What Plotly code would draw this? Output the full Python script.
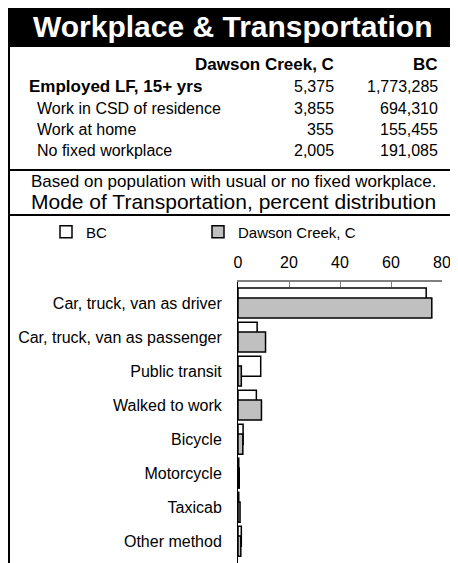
import plotly.graph_objects as go

# The page body has an 8px margin, so the figure is drawn 8px smaller and every
# reference pixel coordinate below is converted through px()/py().
W, H = 450, 555
OFF = 8

categories = ["Car, truck, van as driver", "Car, truck, van as passenger", "Public transit",
              "Walked to work", "Bicycle", "Motorcycle", "Taxicab", "Other method"]
bc_values = [73.8, 7.5, 8.9, 7.2, 2.0, 0.3, 0.3, 1.3]
dc_values = [76.0, 10.8, 1.3, 9.2, 1.9, 0.5, 0.8, 1.1]
x_ticks = [0, 20, 40, 60, 80]

title_text = "Workplace & Transportation"
table_header = ["Dawson Creek, C", "BC"]
table_rows = ["Employed LF, 15+ yrs", "Work in CSD of residence", "Work at home", "No fixed workplace"]
dc_counts = ["5,375", "3,855", "355", "2,005"]
bc_counts = ["1,773,285", "694,310", "155,455", "191,085"]
note_text = "Based on population with usual or no fixed workplace."
chart_title = "Mode of Transportation, percent distribution"

FONT = "Arial, Liberation Sans, sans-serif"

# plot area in reference pixels
L, R, T, B = 238, 442, 282, 563


def px(x):
    return (x - L) / (R - L)


def py(y):
    return (B - y) / (B - T)


fig = go.Figure()
fig.add_trace(go.Bar(
    y=categories, x=bc_values, orientation="h", name="BC", legend="legend",
    marker=dict(color="white", line=dict(color="black", width=1.5)),
    offset=-0.44, width=0.59,
))
fig.add_trace(go.Bar(
    y=categories, x=dc_values, orientation="h", name="Dawson Creek, C", legend="legend2",
    marker=dict(color="#c0c0c0", line=dict(color="black", width=1.5)),
    offset=-0.15, width=0.59,
))

shapes = [
    dict(type="rect", xref="paper", yref="paper", x0=px(8), x1=px(460), y0=py(47), y1=py(5),
         fillcolor="black", line=dict(width=0), layer="below"),
    dict(type="line", xref="paper", yref="paper", x0=px(9), x1=px(9), y0=py(47), y1=py(565),
         line=dict(color="black", width=2)),
    dict(type="line", xref="paper", yref="paper", x0=px(8), x1=px(460), y0=py(170), y1=py(170),
         line=dict(color="black", width=2)),
    dict(type="line", xref="paper", yref="paper", x0=px(8), x1=px(460), y0=py(215), y1=py(215),
         line=dict(color="black", width=2)),
]

ann = []


def text(x, y, s, size=15, anchor="left", bold=False, color="black"):
    ann.append(dict(xref="paper", yref="paper", x=px(x), y=py(y),
                    text=("<b>%s</b>" % s) if bold else s, showarrow=False,
                    xanchor=anchor, yanchor="middle",
                    font=dict(family=FONT, size=size, color=color)))


text(233, 26, title_text, size=30, anchor="center", bold=True, color="white")
text(336, 65, table_header[0], size=17, anchor="right", bold=True)
text(440, 65, table_header[1], size=17, anchor="right", bold=True)
row_y = [87, 108, 129, 150]
for i, name in enumerate(table_rows):
    if i == 0:
        text(27, row_y[i], name, size=17, bold=True)
    else:
        text(35, row_y[i], name, size=16)
    text(336, row_y[i], dc_counts[i], size=16, anchor="right")
    text(440, row_y[i], bc_counts[i], size=16, anchor="right")
text(233, 181, note_text, size=17, anchor="center")
text(233, 201, chart_title, size=21, anchor="center")

legend_common = dict(orientation="h", yanchor="middle", xanchor="left", itemwidth=30,
                     font=dict(family=FONT, size=15), bgcolor="rgba(0,0,0,0)")

fig.update_layout(
    width=W, height=H,
    margin=dict(l=L - OFF, r=W - (R - OFF), t=T - OFF, b=H - (B - OFF), pad=0),
    paper_bgcolor="white", plot_bgcolor="white",
    barmode="overlay",
    font=dict(family=FONT, size=16, color="black"),
    shapes=shapes, annotations=ann,
    showlegend=True,
    legend=dict(x=px(46), y=py(232), **legend_common),
    legend2=dict(x=px(198), y=py(232), **legend_common),
    xaxis=dict(side="top", range=[0, 80], tickvals=x_ticks, ticks="inside", ticklen=5,
               tickcolor="#808080", showline=True, linecolor="#808080", linewidth=1.5,
               showgrid=False, zeroline=False, ticklabelstandoff=6,
               tickfont=dict(family=FONT, size=16)),
    yaxis=dict(type="category", range=[7.64, -0.62], autorange=False, showline=True,
               linecolor="black", linewidth=1, ticks="", showgrid=False, zeroline=False,
               ticklabelstandoff=12, tickfont=dict(family=FONT, size=16)),
)

fig.write_html("out.html")
